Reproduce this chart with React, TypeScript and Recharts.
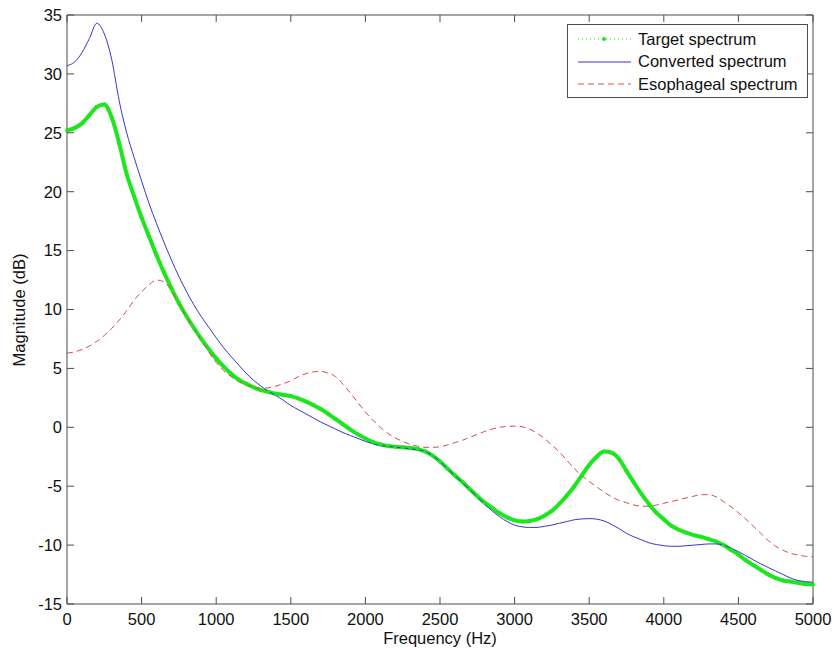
import { LineChart, Line, XAxis, YAxis, ReferenceLine } from 'recharts';

// frequency grid, Hz
const freqs = [
  0, 50, 100, 150, 200, 250, 300, 350, 400, 450,
  500, 550, 600, 650, 700, 750, 800, 850, 900, 950,
  1000, 1050, 1100, 1150, 1200, 1250, 1300, 1350, 1400, 1450,
  1500, 1550, 1600, 1650, 1700, 1750, 1800, 1850, 1900, 1950,
  2000, 2050, 2100, 2150, 2200, 2250, 2300, 2350, 2400, 2450,
  2500, 2550, 2600, 2650, 2700, 2750, 2800, 2850, 2900, 2950,
  3000, 3050, 3100, 3150, 3200, 3250, 3300, 3350, 3400, 3450,
  3500, 3550, 3600, 3650, 3700, 3750, 3800, 3850, 3900, 3950,
  4000, 4050, 4100, 4150, 4200, 4250, 4300, 4350, 4400, 4450,
  4500, 4550, 4600, 4650, 4700, 4750, 4800, 4850, 4900, 4950,
  5000,
];

// magnitudes, dB
const target = [
  25.2, 25.4, 25.8, 26.5, 27.2, 27.4, 26.3, 24.1, 21.5, 19.6,
  17.8, 16.2, 14.6, 13.15, 11.8, 10.55, 9.45, 8.45, 7.5, 6.65,
  5.85, 5.15, 4.55, 4.05, 3.7, 3.4, 3.15, 3.0, 2.85, 2.75,
  2.65, 2.45, 2.2, 1.9, 1.55, 1.15, 0.7, 0.25, -0.2, -0.6,
  -0.95, -1.25, -1.45, -1.58, -1.65, -1.7, -1.75, -1.85, -2.05, -2.4,
  -2.9, -3.5, -4.1, -4.65, -5.25, -5.85, -6.4, -6.85, -7.3, -7.65,
  -7.9, -8.0, -7.95, -7.8, -7.5, -7.1, -6.5, -5.8, -5.0, -4.1,
  -3.2, -2.5, -2.05, -2.15, -2.7, -3.7, -4.7, -5.65, -6.5, -7.25,
  -7.8, -8.35, -8.7, -8.95, -9.15, -9.3, -9.5, -9.7, -10.0, -10.4,
  -10.8, -11.3, -11.7, -12.1, -12.5, -12.8, -13.0, -13.1, -13.2, -13.3,
  -13.35,
];

const converted = [
  30.7, 31.0, 31.8, 33.0, 34.3, 33.4, 31.2, 27.7, 25.0, 22.9,
  20.9, 19.0, 17.3, 15.7, 14.2, 12.8, 11.55, 10.4, 9.4, 8.5,
  7.6, 6.75, 6.0, 5.3, 4.6, 4.0, 3.5, 3.05, 2.7, 2.3,
  1.85, 1.5, 1.15, 0.8, 0.45, 0.15, -0.15, -0.45, -0.7, -0.95,
  -1.2, -1.4, -1.55, -1.62, -1.68, -1.75, -1.82, -1.9, -2.05, -2.4,
  -2.9, -3.5, -4.1, -4.7, -5.3, -5.9, -6.55, -7.1, -7.6, -8.0,
  -8.3, -8.45, -8.5, -8.5, -8.4, -8.3, -8.15, -8.0, -7.85, -7.78,
  -7.75, -7.8, -7.95, -8.25, -8.6, -9.0, -9.3, -9.55, -9.8, -9.95,
  -10.05, -10.1, -10.1, -10.05, -10.0, -9.95, -9.9, -9.9, -10.0, -10.25,
  -10.55, -10.9, -11.25, -11.6, -11.9, -12.2, -12.5, -12.8, -13.0, -13.1,
  -13.15,
];

const esophageal = [
  6.3, 6.4, 6.6, 6.9, 7.3, 7.8, 8.4, 9.1, 9.9, 10.8,
  11.5, 12.1, 12.5, 12.35, 11.6, 10.5, 9.4, 8.4, 7.4, 6.4,
  5.5, 4.8, 4.3, 3.9, 3.6, 3.4, 3.3, 3.35, 3.5, 3.7,
  3.95, 4.3, 4.55, 4.7, 4.75, 4.6, 4.3, 3.65, 2.9, 2.1,
  1.3, 0.6, 0.0, -0.5, -0.9, -1.2, -1.45, -1.6, -1.7, -1.7,
  -1.65, -1.5, -1.3, -1.1, -0.85, -0.6, -0.35, -0.15, 0.0, 0.08,
  0.1, 0.05, -0.15, -0.5, -0.95, -1.5, -2.1, -2.8, -3.5, -4.1,
  -4.6, -5.05, -5.5, -5.9, -6.2, -6.4, -6.6, -6.7, -6.7, -6.6,
  -6.45, -6.3, -6.15, -6.0, -5.85, -5.72, -5.72, -5.9, -6.3, -6.75,
  -7.25, -7.8, -8.4, -9.0, -9.6, -10.1, -10.45, -10.7, -10.85, -10.95,
  -11.0,
];

const xTicks = [0, 500, 1000, 1500, 2000, 2500, 3000, 3500, 4000, 4500, 5000];
const yTicks = [-15, -10, -5, 0, 5, 10, 15, 20, 25, 30, 35];

const FONT = '"Liberation Sans", Arial, sans-serif';
const AXIS = '#4d4d4d';
const GREEN = '#1ee61e';
const BLUE = '#3535d0';
const RED = '#d84a4a';

// plot box edges (from the chart margins below)
const PLOT_LEFT = 67;
const PLOT_RIGHT = 813;
const PLOT_TOP = 15;
const PLOT_BOTTOM = 604;
const TICK_LEN = 7;

const data = freqs.map((f, i) => ({
  f,
  target: target[i],
  converted: converted[i],
  esophageal: esophageal[i],
}));

const legendRows = [
  { name: 'Target spectrum', color: GREEN, dash: '1 3', dot: true },
  { name: 'Converted spectrum', color: BLUE, dash: undefined, dot: false },
  { name: 'Esophageal spectrum', color: RED, dash: '6 4', dot: false },
];

// MATLAB-style ticks: pointing inward, mirrored on the opposite side
function XTick({ x, y, payload }: any) {
  return (
    <g>
      <line x1={x} x2={x} y1={PLOT_BOTTOM} y2={PLOT_BOTTOM - TICK_LEN} stroke={AXIS} />
      <line x1={x} x2={x} y1={PLOT_TOP} y2={PLOT_TOP + TICK_LEN} stroke={AXIS} />
      <text x={x} y={y} dy="0.71em" textAnchor="middle" fontSize={16.5} fontFamily={FONT} fill="#111">
        {payload.value}
      </text>
    </g>
  );
}

function YTick({ x, y, payload }: any) {
  return (
    <g>
      <line x1={PLOT_LEFT} x2={PLOT_LEFT + TICK_LEN} y1={y} y2={y} stroke={AXIS} />
      <line x1={PLOT_RIGHT} x2={PLOT_RIGHT - TICK_LEN} y1={y} y2={y} stroke={AXIS} />
      <text x={x} y={y} dy="0.355em" textAnchor="end" fontSize={16.5} fontFamily={FONT} fill="#111">
        {payload.value}
      </text>
    </g>
  );
}

function LegendBox() {
  return (
    <div style={{
      position: 'absolute', left: 567, top: 24, width: 239, height: 72,
      border: `1px solid ${AXIS}`, background: '#fff', fontFamily: FONT, fontSize: 16.5, color: '#111',
    }}>
      {legendRows.map((r, i) => (
        <div key={r.name} style={{ position: 'absolute', left: 0, top: 3 + i * 22.5, height: 22, display: 'flex', alignItems: 'center' }}>
          <svg width={70} height={22} style={{ display: 'block' }}>
            <line x1={10} x2={63} y1={11} y2={11} stroke={r.color} strokeWidth={1} strokeDasharray={r.dash} />
            {r.dot && <circle cx={36} cy={11} r={2} fill={r.color} />}
          </svg>
          <span style={{ whiteSpace: 'nowrap' }}>{r.name}</span>
        </div>
      ))}
    </div>
  );
}

export default function App() {
  return (
    <div style={{ position: 'absolute', left: 0, top: 0, width: 834, height: 650, background: '#fff' }}>
      <LineChart width={834} height={650} data={data} margin={{ top: 15, right: 21, bottom: 16, left: 17 }}>
        <XAxis
          dataKey="f"
          type="number"
          domain={[0, 5000]}
          ticks={xTicks}
          height={30}
          stroke={AXIS}
          tickLine={false}
          tickSize={0}
          tickMargin={9}
          tick={<XTick />}
          label={{
            content: () => (
              <text x={440} y={644} textAnchor="middle" fontSize={16.5} fontFamily={FONT} fill="#111">
                Frequency (Hz)
              </text>
            ),
          }}
        />
        <YAxis
          type="number"
          domain={[-15, 35]}
          ticks={yTicks}
          width={50}
          stroke={AXIS}
          tickLine={false}
          tickSize={0}
          tickMargin={5}
          tick={<YTick />}
          allowDataOverflow
          label={{
            content: () => (
              <text x={25} y={310} transform="rotate(-90 25 310)" textAnchor="middle" fontSize={16.5} fontFamily={FONT} fill="#111">
                Magnitude (dB)
              </text>
            ),
          }}
        />
        <ReferenceLine y={35} stroke={AXIS} />
        <ReferenceLine x={5000} stroke={AXIS} />
        <Line
          type="monotone"
          dataKey="target"
          name="Target spectrum"
          stroke={GREEN}
          strokeWidth={4}
          dot={{ r: 2, fill: GREEN, stroke: GREEN, strokeWidth: 0 }}
          isAnimationActive={false}
        />
        <Line
          type="monotone"
          dataKey="converted"
          name="Converted spectrum"
          stroke={BLUE}
          strokeWidth={1}
          dot={false}
          isAnimationActive={false}
        />
        <Line
          type="monotone"
          dataKey="esophageal"
          name="Esophageal spectrum"
          stroke={RED}
          strokeWidth={1}
          strokeDasharray="6 4"
          dot={false}
          isAnimationActive={false}
        />
      </LineChart>
      <LegendBox />
    </div>
  );
}
